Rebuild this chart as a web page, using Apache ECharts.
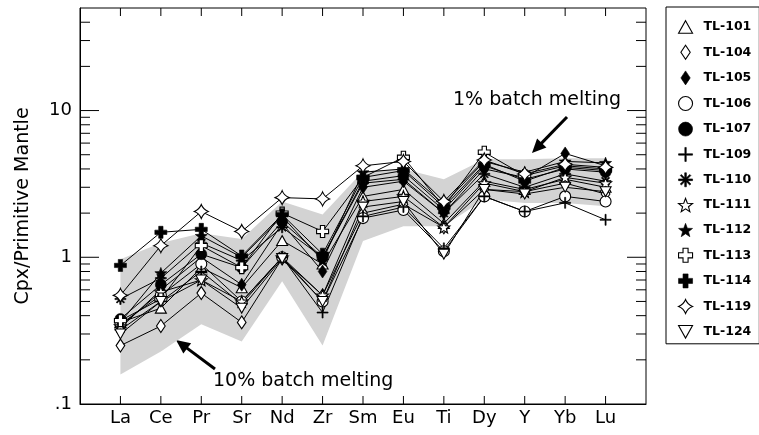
<!DOCTYPE html>
<html>
<head>
<meta charset="utf-8">
<script src="https://cdn.jsdelivr.net/npm/echarts@6/dist/echarts.min.js"></script>
<style>
  html, body { margin: 0; padding: 0; background: #fff; }
  #chart { width: 759px; height: 435px; }
</style>
</head>
<body>
<div id="chart"></div>
<script>
// Elements on the x axis (spider diagram order)
const elements = ['La', 'Ce', 'Pr', 'Sr', 'Nd', 'Zr', 'Sm', 'Eu', 'Ti', 'Dy', 'Y', 'Yb', 'Lu'];

// Clinopyroxene compositions normalised to primitive mantle
const tl101 = [0.36, 0.45, 0.85, 0.62, 1.30, 0.90, 2.60, 2.90, 1.70, 3.30, 2.90, 3.40, 3.00];
const tl104 = [0.25, 0.34, 0.57, 0.36, 0.98, 0.55, 2.00, 2.30, 1.60, 2.90, 2.80, 3.20, 2.70];
const tl105 = [0.33, 0.60, 1.00, 0.65, 1.70, 0.80, 3.00, 3.30, 2.00, 4.00, 3.50, 5.10, 4.20];
const tl106 = [0.35, 0.55, 0.90, 0.50, 1.00, 0.50, 1.85, 2.10, 1.10, 2.60, 2.05, 2.60, 2.40];
const tl107 = [0.38, 0.65, 1.05, 0.85, 1.75, 1.00, 3.30, 3.60, 2.10, 4.20, 3.40, 4.00, 3.80];
const tl109 = [0.32, 0.50, 0.80, 0.48, 1.00, 0.42, 1.90, 2.20, 1.15, 2.60, 2.05, 2.35, 1.80];
const tl110 = [0.52, 0.72, 1.25, 0.95, 1.60, 1.00, 3.20, 3.40, 2.00, 3.70, 3.00, 3.70, 3.30];
const tl111 = [0.34, 0.58, 0.70, 0.50, 1.00, 0.55, 2.40, 2.60, 1.60, 3.20, 2.80, 3.50, 3.20];
const tl112 = [0.36, 0.78, 1.40, 1.00, 1.90, 0.95, 3.80, 4.00, 2.30, 4.50, 3.80, 4.50, 4.40];
const tl113 = [0.37, 0.52, 1.20, 0.85, 2.00, 1.50, 3.50, 4.80, 2.20, 5.20, 3.60, 4.20, 4.00];
const tl114 = [0.88, 1.48, 1.55, 1.02, 1.95, 1.05, 3.50, 3.90, 2.20, 4.30, 3.30, 4.10, 3.90];
const tl119 = [0.55, 1.20, 2.05, 1.50, 2.55, 2.50, 4.20, 4.50, 2.40, 4.60, 3.70, 4.30, 4.10];
const tl124 = [0.30, 0.50, 0.70, 0.45, 0.98, 0.50, 2.20, 2.40, 1.05, 2.90, 2.70, 3.00, 2.80];

// Batch-melting model envelope (1% upper, 10% lower)
const envelopeUpper = [0.97, 1.25, 1.46, 1.33, 2.40, 1.96, 3.86, 4.00, 3.40, 4.66, 4.66, 4.74, 4.74];
const envelopeLower = [0.159, 0.228, 0.35, 0.267, 0.686, 0.25, 1.29, 1.63, 1.63, 2.49, 2.34, 2.34, 2.23];

// Log axis ticks and labels
const yMajorTicks = [1, 10];
const yMinorTicks = [0.2, 0.3, 0.4, 0.5, 0.6, 0.7, 0.8, 0.9, 2, 3, 4, 5, 6, 7, 8, 9, 20, 30, 40];
const yLabelValues = [0.1, 1, 10];
const yLabelTexts = ['.1', '1', '10'];

const FONT = "'DejaVu Sans', Verdana, sans-serif";

// Marker shapes
function starPath(outer, inner) {
  let d = '';
  for (let i = 0; i < 10; i++) {
    const r = i % 2 === 0 ? outer : inner;
    const a = -Math.PI / 2 + i * Math.PI / 5;
    const x = (5 + r * Math.cos(a)).toFixed(2);
    const y = (5 + r * Math.sin(a)).toFixed(2);
    d += (i === 0 ? 'M' : 'L') + x + ',' + y;
  }
  return 'path://' + d + 'Z';
}
const SYM = {
  triangle: 'path://M5,0L10,9L0,9Z',
  diamond: 'path://M4,0L8,6L4,12L0,6Z',
  circle: 'circle',
  plus: 'path://M4.5,0H5.5V4.5H10V5.5H5.5V10H4.5V5.5H0V4.5H4.5Z',
  asterisk: 'path://M4.4,0H5.6V10H4.4Z M0,4.4H10V5.6H0Z M1.2,2.0L2.0,1.2L8.8,8.0L8.0,8.8Z M8.0,1.2L8.8,2.0L2.0,8.8L1.2,8.0Z',
  star: starPath(5, 2.1),
  cross: 'path://M3.2,0H6.8V3.2H10V6.8H6.8V10H3.2V6.8H0V3.2H3.2Z',
  sparkle: 'path://M5,0Q6.4,3.6 10,5Q6.4,6.4 5,10Q3.6,6.4 0,5Q3.6,3.6 5,0Z',
  invTriangle: 'path://M0,0L10,0L5,9Z'
};

const OPEN = { color: '#fff', borderColor: '#000', borderWidth: 1.1 };
const SOLID = { color: '#000', borderColor: '#000', borderWidth: 0.6 };

const samples = [
  { name: 'TL-101', values: tl101, symbol: SYM.triangle, size: 11, style: OPEN },
  { name: 'TL-104', values: tl104, symbol: SYM.diamond, size: 13, style: OPEN },
  { name: 'TL-105', values: tl105, symbol: SYM.diamond, size: 13, style: SOLID },
  { name: 'TL-106', values: tl106, symbol: SYM.circle, size: 11, style: OPEN },
  { name: 'TL-107', values: tl107, symbol: SYM.circle, size: 11, style: SOLID },
  { name: 'TL-109', values: tl109, symbol: SYM.plus, size: 11, style: SOLID },
  { name: 'TL-110', values: tl110, symbol: SYM.asterisk, size: 11, style: SOLID },
  { name: 'TL-111', values: tl111, symbol: SYM.star, size: 12, style: OPEN },
  { name: 'TL-112', values: tl112, symbol: SYM.star, size: 12, style: SOLID },
  { name: 'TL-113', values: tl113, symbol: SYM.cross, size: 12, style: OPEN },
  { name: 'TL-114', values: tl114, symbol: SYM.cross, size: 12, style: SOLID },
  { name: 'TL-119', values: tl119, symbol: SYM.sparkle, size: 14, style: OPEN },
  { name: 'TL-124', values: tl124, symbol: SYM.invTriangle, size: 11, style: OPEN }
];

const X_MIN = 0, X_MAX = elements.length + 1;
const Y_MIN = 0.1, Y_MAX = 50;

const chart = echarts.init(document.getElementById('chart'), null, { renderer: 'canvas' });

const lineSeries = samples.map(s => ({
  name: s.name,
  type: 'line',
  data: s.values.map((v, i) => [i + 1, v]),
  symbol: s.symbol,
  symbolSize: s.size,
  symbolKeepAspect: true,
  showAllSymbol: true,
  lineStyle: { color: '#000', width: 1 },
  itemStyle: s.style,
  z: 3,
  silent: true
}));

// Grey model envelope drawn as a polygon through the axis scales
const envelopeSeries = {
  type: 'custom',
  name: 'envelope',
  silent: true,
  z: 1,
  data: [[1, envelopeUpper[0]]],
  renderItem: function (params, api) {
    const pts = [];
    for (let i = 0; i < elements.length; i++) pts.push(api.coord([i + 1, envelopeUpper[i]]));
    for (let i = elements.length - 1; i >= 0; i--) pts.push(api.coord([i + 1, envelopeLower[i]]));
    return { type: 'polygon', shape: { points: pts }, style: { fill: '#d3d3d3', stroke: null } };
  }
};

// Inward ticks on the left and right frame (log scale)
const yTickData = yMinorTicks.map(v => [X_MIN, v, 0]).concat(yMajorTicks.map(v => [X_MIN, v, 1]));
const yTickSeries = {
  type: 'custom',
  name: 'yticks',
  silent: true,
  z: 4,
  data: yTickData,
  renderItem: function (params, api) {
    const v = api.value(1);
    const len = api.value(2) ? 19 : 10;
    const l = api.coord([X_MIN, v]);
    const r = api.coord([X_MAX, v]);
    const st = { stroke: '#000', lineWidth: 1 };
    return {
      type: 'group',
      children: [
        { type: 'line', shape: { x1: l[0], y1: l[1], x2: l[0] + len, y2: l[1] }, style: st },
        { type: 'line', shape: { x1: r[0], y1: r[1], x2: r[0] - len, y2: r[1] }, style: st }
      ]
    };
  }
};

// Inward ticks at each element on the bottom and top frame
const xTickSeries = {
  type: 'custom',
  name: 'xticks',
  silent: true,
  z: 4,
  data: elements.map((e, i) => [i + 1, Y_MIN]),
  renderItem: function (params, api) {
    const x = api.value(0);
    const b = api.coord([x, Y_MIN]);
    const t = api.coord([x, Y_MAX]);
    const st = { stroke: '#000', lineWidth: 1 };
    return {
      type: 'group',
      children: [
        { type: 'line', shape: { x1: b[0], y1: b[1], x2: b[0], y2: b[1] - 8 }, style: st },
        { type: 'line', shape: { x1: t[0], y1: t[1], x2: t[0], y2: t[1] + 8 }, style: st }
      ]
    };
  }
};

function arrow(tail, tip, headLen, headHalf, width) {
  const dx = tip[0] - tail[0], dy = tip[1] - tail[1];
  const L = Math.sqrt(dx * dx + dy * dy);
  const ux = dx / L, uy = dy / L;
  const bx = tip[0] - ux * headLen, by = tip[1] - uy * headLen;
  const px = -uy * headHalf, py = ux * headHalf;
  return [
    { type: 'line', shape: { x1: tail[0], y1: tail[1], x2: bx + ux * 2, y2: by + uy * 2 }, style: { stroke: '#000', lineWidth: width } },
    { type: 'polygon', shape: { points: [tip, [bx + px, by + py], [bx - px, by - py]] }, style: { fill: '#000' } }
  ];
}

const option = {
  animation: false,
  backgroundColor: '#fff',
  grid: { left: 80, right: 113, top: 8, bottom: 31, show: true, borderColor: '#000', borderWidth: 1, backgroundColor: 'transparent' },
  xAxis: {
    type: 'value',
    min: X_MIN,
    max: X_MAX,
    interval: 1,
    splitLine: { show: false },
    axisLine: { show: true, lineStyle: { color: '#000', width: 1 } },
    axisTick: { show: false },
    axisLabel: {
      color: '#000',
      fontFamily: FONT,
      fontSize: 18,
      margin: 5,
      formatter: function (v) { const i = Math.round(v) - 1; return elements[i] || ''; }
    }
  },
  yAxis: {
    type: 'log',
    logBase: 10,
    min: Y_MIN,
    max: Y_MAX,
    splitLine: { show: false },
    axisLine: { show: true, lineStyle: { color: '#000', width: 1 } },
    axisTick: { show: false },
    axisLabel: {
      color: '#000',
      fontFamily: FONT,
      fontSize: 18,
      margin: 8,
      showMaxLabel: false,
      formatter: function (v) {
        for (let i = 0; i < yLabelValues.length; i++) {
          if (Math.abs(v - yLabelValues[i]) < 1e-6 * yLabelValues[i]) return yLabelTexts[i];
        }
        return '';
      }
    },
    name: 'Cpx/Primitive Mantle',
    nameLocation: 'middle',
    nameRotate: 90,
    nameGap: 47,
    nameTextStyle: { color: '#000', fontFamily: FONT, fontSize: 19 }
  },
  legend: {
    orient: 'vertical',
    left: 666,
    top: 7,
    padding: [13, 8, 5, 12],
    itemWidth: 14,
    itemHeight: 14,
    itemGap: 10.75,
    selectedMode: false,
    borderColor: '#000',
    borderWidth: 1,
    backgroundColor: '#fff',
    symbolKeepAspect: true,
    textStyle: { color: '#000', fontFamily: FONT, fontSize: 12.5, fontWeight: 'bold', lineHeight: 14, padding: [0, 0, 0, 6] },
    data: samples.map(s => ({ name: s.name, icon: s.symbol, itemStyle: s.style }))
  },
  graphic: [
    { type: 'text', left: 453, top: 91, style: { text: '1% batch melting', fill: '#000', font: '19px ' + FONT } },
    { type: 'text', left: 213, top: 372, style: { text: '10% batch melting', fill: '#000', font: '19px ' + FONT } },
    { type: 'group', children: arrow([567, 117], [532, 153], 14, 6.5, 3) },
    { type: 'group', children: arrow([215, 369], [176, 340], 14, 6.5, 3) }
  ],
  series: [envelopeSeries].concat(lineSeries, [yTickSeries, xTickSeries])
};

chart.setOption(option);
</script>
</body>
</html>
